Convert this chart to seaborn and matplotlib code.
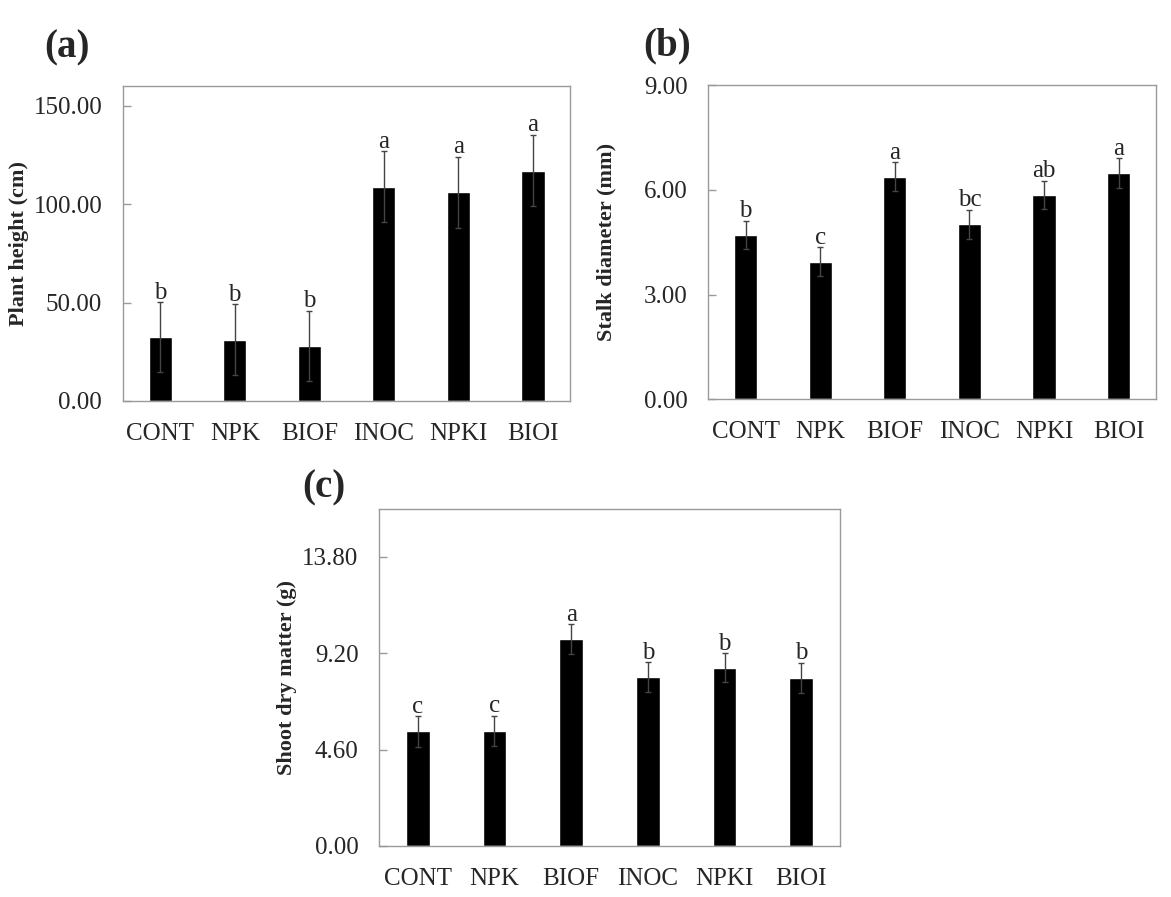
import matplotlib
matplotlib.use("Agg")
import matplotlib.pyplot as plt
import pandas as pd
import seaborn as sns

# Data
categories = ["CONT", "NPK", "BIOF", "INOC", "NPKI", "BIOI"]

height_mean = [32.3, 31.2, 28.0, 108.9, 106.0, 117.0]
height_err = [17.8, 18.0, 17.9, 17.9, 18.2, 18.1]
height_letters = ["b", "b", "b", "a", "a", "a"]

stalk_mean = [4.71, 3.94, 6.38, 5.01, 5.85, 6.48]
stalk_err = [0.41, 0.41, 0.41, 0.41, 0.41, 0.42]
stalk_letters = ["b", "c", "a", "bc", "ab", "a"]

shoot_mean = [5.46, 5.50, 9.86, 8.06, 8.50, 8.01]
shoot_err = [0.73, 0.72, 0.71, 0.71, 0.70, 0.73]
shoot_letters = ["c", "c", "a", "b", "b", "b"]

sns.set_style("white")
plt.rcParams["font.family"] = ["Liberation Serif", "DejaVu Serif"]

SPINE = "#9a9a9a"


def draw_panel(ax, means, errs, letters, ylabel, ylim, yticks, fmt, label_x):
    df = pd.DataFrame({"treatment": categories, "value": means})
    sns.barplot(data=df, x="treatment", y="value", color="black",
                width=0.31, errorbar=None, ax=ax, saturation=1)
    ax.errorbar(range(len(categories)), means, yerr=errs, fmt="none",
                ecolor="#444444", elinewidth=1.0, capsize=2.5, capthick=1.0)
    for i, (m, e, lab) in enumerate(zip(means, errs, letters)):
        ax.annotate(lab, (i, m + e), xytext=(0, -1), textcoords="offset points",
                    ha="center", va="bottom", fontsize=18)
    ax.set_xlim(-0.5, len(categories) - 0.5)
    ax.set_ylim(*ylim)
    ax.set_yticks(yticks)
    ax.set_yticklabels([fmt.format(t) for t in yticks])
    ax.set_xticks(range(len(categories)))
    ax.set_xticks([i + 0.5 for i in range(len(categories) - 1)], minor=True)
    ax.tick_params(axis="x", which="major", length=0, pad=16, labelsize=18)
    ax.tick_params(axis="x", which="minor", direction="in", length=5,
                   color=SPINE, width=1)
    ax.tick_params(axis="y", direction="in", length=6, color=SPINE,
                   width=1, pad=15, labelsize=18, left=True)
    ax.set_xlabel("")
    ax.set_ylabel(ylabel, fontsize=16, fontweight="bold")
    ax.yaxis.set_label_coords(label_x, 0.5)
    for s in ax.spines.values():
        s.set_color(SPINE)
        s.set_linewidth(1.0)
        s.set_visible(True)


fig = plt.figure(figsize=(11.71, 8.97), dpi=100)
ax1 = fig.add_axes([0.105, 0.553, 0.382, 0.351])
ax2 = fig.add_axes([0.605, 0.555, 0.382, 0.350])
ax3 = fig.add_axes([0.324, 0.057, 0.393, 0.376])

draw_panel(ax1, height_mean, height_err, height_letters, "Plant height (cm)",
           (0, 160), [0, 50, 100, 150], "{:.2f}", -0.21)
draw_panel(ax2, stalk_mean, stalk_err, stalk_letters, "Stalk diameter (mm)",
           (0, 9), [0, 3, 6, 9], "{:.2f}", -0.205)
draw_panel(ax3, shoot_mean, shoot_err, shoot_letters, "Shoot dry matter (g)",
           (0, 16.1), [0, 4.6, 9.2, 13.8], "{:.2f}", -0.178)

fig.text(0.038, 0.947, "(a)", fontsize=28, fontweight="bold", va="center")
fig.text(0.549, 0.949, "(b)", fontsize=28, fontweight="bold", va="center")
fig.text(0.258, 0.456, "(c)", fontsize=28, fontweight="bold", va="center")

fig.savefig("out.png", dpi=100)
